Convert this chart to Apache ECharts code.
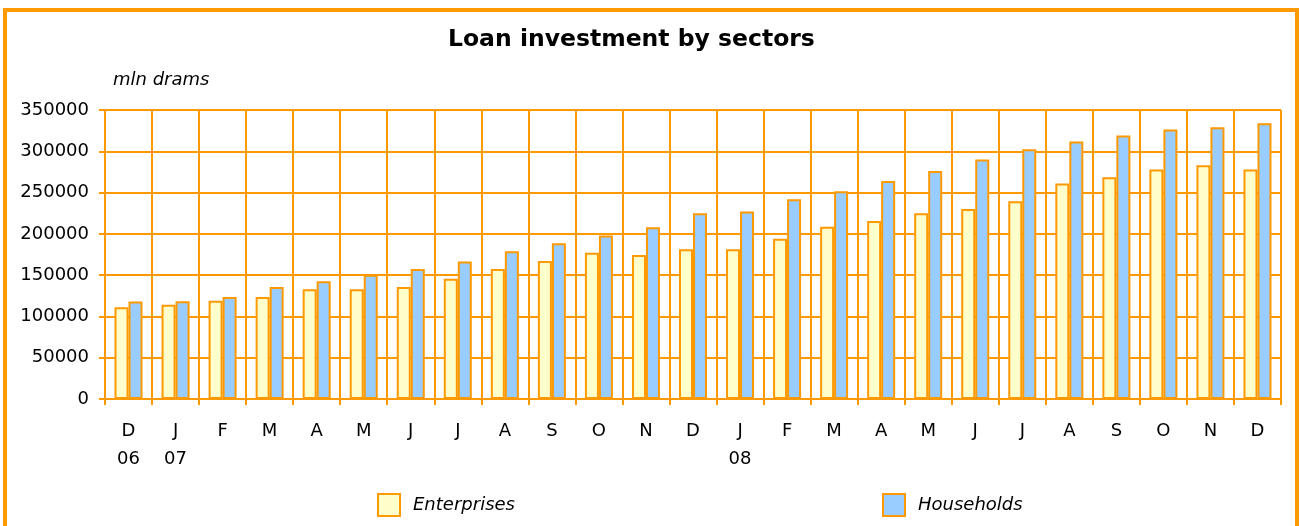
<!DOCTYPE html>
<html>
<head>
<meta charset="utf-8">
<script src="https://cdn.jsdelivr.net/npm/echarts@6/dist/echarts.min.js"></script>
<style>
html,body{margin:0;padding:0;background:#fff;}
#c{width:1300px;height:526px;}
</style>
</head>
<body>
<div id="c"></div>
<script>
var categories = ['D\n06','J\n07','F','M','A','M','J','J','A','S','O','N','D','J\n08','F','M','A','M','J','J','A','S','O','N','D'];
var enterprises = [111000,114000,119000,123500,133000,133000,135500,145500,157500,167000,177000,174500,181500,181500,194000,208500,215500,225000,230000,239500,261000,268500,278000,283000,278000];
var households = [118000,118500,123500,135500,142500,150500,157500,166500,179000,188500,198000,208000,225000,227000,242000,251500,264000,276000,290000,302500,312000,319000,326500,329000,334000];
var yTicks = {min: 0, max: 350000, interval: 50000};

var ORANGE = '#FF9900';
var FONT = 'DejaVu Sans';
var chart = echarts.init(document.getElementById('c'));
chart.setOption({
  animation: false,
  backgroundColor: '#fff',
  title: {
    text: 'Loan investment by sectors',
    left: 443, top: 23,
    textStyle: {fontFamily: FONT, fontSize: 23.5, fontWeight: 'bold', color: '#000'}
  },
  graphic: [
    {type: 'rect', shape: {x: 5, y: 10, width: 1292, height: 600},
     style: {fill: 'none', stroke: ORANGE, lineWidth: 4}, silent: true, z: -1},
    {type: 'text', left: 113, top: 71,
     style: {text: 'mln drams', fontFamily: FONT, fontSize: 18, fontStyle: 'italic', fill: '#000'}}
  ],
  legend: [
    {data: ['Enterprises'], left: 372, top: 488, itemWidth: 22, itemHeight: 22, icon: 'rect',
     itemStyle: {borderColor: ORANGE, borderWidth: 2},
     textStyle: {fontFamily: FONT, fontSize: 18, fontStyle: 'italic', color: '#000', padding: [0,0,0,8]}},
    {data: ['Households'], left: 877, top: 488, itemWidth: 22, itemHeight: 22, icon: 'rect',
     itemStyle: {borderColor: ORANGE, borderWidth: 2},
     textStyle: {fontFamily: FONT, fontSize: 18, fontStyle: 'italic', color: '#000', padding: [0,0,0,8]}}
  ],
  grid: {left: 105, right: 19, top: 110, bottom: 127, containLabel: false},
  xAxis: {
    type: 'category',
    data: categories,
    boundaryGap: true,
    axisLine: {show: true, lineStyle: {color: ORANGE, width: 2}},
    axisTick: {show: true, length: 6, lineStyle: {color: ORANGE, width: 2}},
    splitLine: {show: true, lineStyle: {color: ORANGE, width: 2}},
    axisLabel: {interval: 0, margin: 18, lineHeight: 28, fontFamily: FONT, fontSize: 18, color: '#000'}
  },
  yAxis: {
    type: 'value',
    min: yTicks.min, max: yTicks.max, interval: yTicks.interval,
    axisLine: {show: true, lineStyle: {color: ORANGE, width: 2}},
    axisTick: {show: true, length: 6, lineStyle: {color: ORANGE, width: 2}},
    splitLine: {show: true, lineStyle: {color: ORANGE, width: 2}},
    axisLabel: {margin: 16, fontFamily: FONT, fontSize: 18, color: '#000',
      formatter: function (v) { return String(v); }}
  },
  series: [
    {name: 'Enterprises', type: 'bar', data: enterprises, barWidth: 14, barGap: '0%',
     itemStyle: {color: '#FFFFCC', borderColor: ORANGE, borderWidth: 2}},
    {name: 'Households', type: 'bar', data: households, barWidth: 14, barGap: '0%',
     itemStyle: {color: '#99CCFF', borderColor: ORANGE, borderWidth: 2}}
  ]
});
</script>
</body>
</html>
